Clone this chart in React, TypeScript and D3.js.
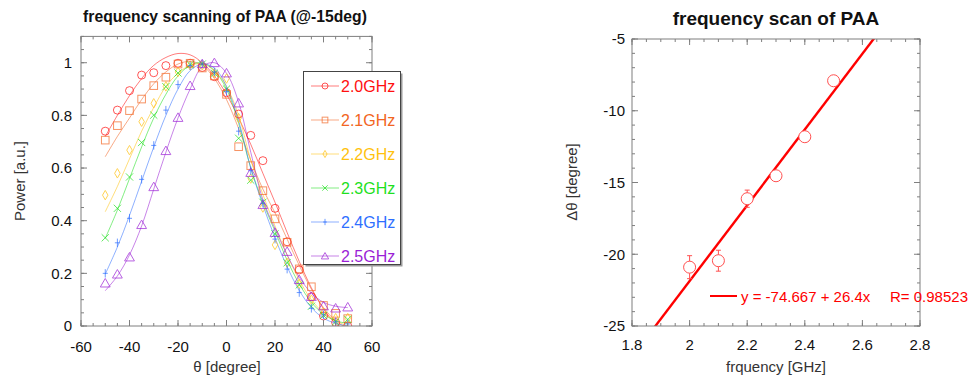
import * as d3 from "d3";

// left panel: measured beam patterns, one array per frequency (theta = -50..50 step 5)
const thetas = [-50, -45, -40, -35, -30, -25, -20, -15, -10, -5, 0, 5, 10, 15, 20, 25, 30, 35, 40, 45, 50];
const freqLabels = ["2.0GHz", "2.1GHz", "2.2GHz", "2.3GHz", "2.4GHz", "2.5GHz"];

const power20 = [0.74, 0.82, 0.894, 0.953, 0.962, 0.989, 0.998, 0.998, 0.982, 0.947, 0.886, 0.805, 0.724, 0.628, 0.447, 0.32, 0.213, 0.111, 0.038, 0.013, 0.0];
const power21 = [0.706, 0.761, 0.818, 0.862, 0.913, 0.945, 0.995, 0.998, 0.98, 0.95, 0.88, 0.681, 0.609, 0.514, 0.407, 0.318, 0.217, 0.149, 0.078, 0.048, 0.028];
const power22 = [0.497, 0.58, 0.668, 0.776, 0.846, 0.91, 0.965, 0.99, 0.99, 0.96, 0.94, 0.79, 0.56, 0.45, 0.308, 0.24, 0.16, 0.1, 0.05, 0.03, 0.03];
const power23 = [0.335, 0.447, 0.566, 0.697, 0.801, 0.909, 0.961, 0.993, 0.995, 0.96, 0.9, 0.713, 0.554, 0.47, 0.35, 0.24, 0.156, 0.075, 0.04, 0.016, 0.025];
const power24 = [0.2, 0.316, 0.409, 0.557, 0.686, 0.82, 0.917, 0.989, 0.995, 0.965, 0.89, 0.74, 0.59, 0.466, 0.33, 0.216, 0.127, 0.067, 0.042, 0.016, 0.008];
const power25 = [0.162, 0.196, 0.261, 0.384, 0.528, 0.665, 0.791, 0.912, 0.995, 0.999, 0.96, 0.846, 0.582, 0.46, 0.354, 0.282, 0.175, 0.111, 0.075, 0.067, 0.071];

// fitted curves at the same angles
const fit20 = [0.72, 0.8, 0.875, 0.94, 0.99, 1.02, 1.035, 1.03, 1.0, 0.95, 0.88, 0.79, 0.69, 0.58, 0.47, 0.355, 0.245, 0.145, 0.065, 0.01, -0.02];
const fit21 = [0.643, 0.72, 0.79, 0.86, 0.92, 0.965, 0.995, 1.005, 0.99, 0.94, 0.86, 0.75, 0.63, 0.52, 0.43, 0.33, 0.23, 0.14, 0.07, 0.02, -0.01];
const fit22 = [0.434, 0.53, 0.635, 0.74, 0.83, 0.91, 0.96, 0.99, 0.995, 0.97, 0.91, 0.8, 0.63, 0.5, 0.38, 0.27, 0.175, 0.1, 0.05, 0.02, 0.0];
const fit23 = [0.333, 0.44, 0.56, 0.68, 0.79, 0.88, 0.95, 0.99, 1.0, 0.97, 0.9, 0.77, 0.6, 0.47, 0.36, 0.25, 0.16, 0.09, 0.045, 0.02, 0.01];
const fit24 = [0.197, 0.3, 0.42, 0.55, 0.68, 0.8, 0.9, 0.97, 0.995, 0.98, 0.91, 0.78, 0.6, 0.46, 0.335, 0.225, 0.135, 0.07, 0.03, 0.01, 0.0];
const fit25 = [0.134, 0.19, 0.27, 0.38, 0.52, 0.66, 0.79, 0.9, 0.985, 1.0, 0.96, 0.85, 0.66, 0.48, 0.37, 0.27, 0.185, 0.125, 0.09, 0.075, 0.07];

// right panel: beam direction vs frequency
const freqs = [2.0, 2.1, 2.2, 2.3, 2.4, 2.5];
const deltaTheta = [-20.9, -20.45, -16.13, -14.53, -11.81, -7.91];
const deltaErr = [0.8, 0.73, 0.6, 0.3, 0.3, 0.3];
const fitIntercept = -74.667;
const fitSlope = 26.4;
const fitR = 0.98523;

const FONT = "'Liberation Sans', Arial, Helvetica, sans-serif";

type Shape = "circle" | "square" | "diamond" | "cross" | "plus" | "triangle";

const series: { label: string; color: string; shape: Shape; data: number[]; fit: number[] }[] = [
  { label: freqLabels[0], color: "#ff1010", shape: "circle", data: power20, fit: fit20 },
  { label: freqLabels[1], color: "#f26522", shape: "square", data: power21, fit: fit21 },
  { label: freqLabels[2], color: "#ffc20e", shape: "diamond", data: power22, fit: fit22 },
  { label: freqLabels[3], color: "#1ee01e", shape: "cross", data: power23, fit: fit23 },
  { label: freqLabels[4], color: "#2f6fff", shape: "plus", data: power24, fit: fit24 },
  { label: freqLabels[5], color: "#9b1fd6", shape: "triangle", data: power25, fit: fit25 },
];

function Marker({ shape, x, y, color, s = 1 }: { shape: Shape; x: number; y: number; color: string; s?: number }) {
  const common = { fill: "none", stroke: color, strokeWidth: 1 };
  if (shape === "circle") return <circle cx={x} cy={y} r={4 * s} {...common} />;
  if (shape === "square") return <rect x={x - 3.8 * s} y={y - 3.8 * s} width={7.6 * s} height={7.6 * s} {...common} />;
  if (shape === "diamond")
    return <path d={d3.symbol(d3.symbolDiamond, 26 * s * s)() as string} transform={`translate(${x},${y})`} {...common} />;
  if (shape === "triangle")
    return <path d={d3.symbol(d3.symbolTriangle, 42 * s * s)() as string} transform={`translate(${x},${y + 0.8})`} {...common} />;
  if (shape === "cross") {
    const r = 3.6 * s;
    return <path d={`M${x - r},${y - r}L${x + r},${y + r}M${x - r},${y + r}L${x + r},${y - r}`} {...common} />;
  }
  const r = 4.2 * s;
  return <path d={`M${x},${y - r}L${x},${y + r}M${x - r * 0.6},${y}L${x + r * 0.6},${y}`} {...common} />;
}

function Frame({ x0, x1, y0, y1, xMajor, xMinor, yMajor, yMinor }: {
  x0: number; x1: number; y0: number; y1: number; xMajor: number[]; xMinor: number[]; yMajor: number[]; yMinor: number[];
}) {
  const c = "#7f7f7f";
  return (
    <g stroke={c} strokeWidth={1} fill="none">
      <rect x={x0} y={y1} width={x1 - x0} height={y0 - y1} />
      {xMinor.map((v, i) => (
        <g key={"xm" + i}>
          <line x1={v} x2={v} y1={y0} y2={y0 - 3} />
          <line x1={v} x2={v} y1={y1} y2={y1 + 3} />
        </g>
      ))}
      {xMajor.map((v, i) => (
        <g key={"xM" + i}>
          <line x1={v} x2={v} y1={y0} y2={y0 - 6} />
          <line x1={v} x2={v} y1={y1} y2={y1 + 6} />
        </g>
      ))}
      {yMinor.map((v, i) => (
        <g key={"ym" + i}>
          <line x1={x0} x2={x0 + 3} y1={v} y2={v} />
          <line x1={x1} x2={x1 - 3} y1={v} y2={v} />
        </g>
      ))}
      {yMajor.map((v, i) => (
        <g key={"yM" + i}>
          <line x1={x0} x2={x0 + 6} y1={v} y2={v} />
          <line x1={x1} x2={x1 - 6} y1={v} y2={v} />
        </g>
      ))}
    </g>
  );
}

const fmt = (v: number) => String(+v.toFixed(2));

export default function App() {
  // left panel scales
  const xL = d3.scaleLinear().domain([-60, 60]).range([81, 372]);
  const yL = d3.scaleLinear().domain([0, 1.1]).range([326, 36.4]);
  const xLMajor = d3.range(-60, 60.01, 20);
  const xLMinor = d3.range(-60, 60.01, 5);
  const yLMajor = d3.range(0, 1.001, 0.2);
  const yLMinor = d3.range(0, 1.1001, 0.05);

  // right panel scales
  const xR = d3.scaleLinear().domain([1.8, 2.8]).range([632, 920]);
  const yR = d3.scaleLinear().domain([-25, -5]).range([326, 39]);
  const xRMajor = d3.range(1.8, 2.801, 0.2);
  const xRMinor = d3.range(1.8, 2.801, 0.05);
  const yRMajor = d3.range(-25, -4.99, 5);
  const yRMinor = d3.range(-25, -4.99, 1);

  const fitLine = d3
    .line<number>()
    .x((_, i) => xL(thetas[i]))
    .y((d) => yL(d))
    .curve(d3.curveCatmullRom.alpha(0.5));

  const regX = [1.8, 2.8];
  const regLine = d3
    .line<number>()
    .x((d) => xR(d))
    .y((d) => yR(fitIntercept + fitSlope * d));

  const legendRows = series.map((_, i) => 86 + i * 34);

  return (
    <svg width={974} height={383} style={{ position: "absolute", left: 0, top: 0, background: "#fff" }} fontFamily={FONT}>
      <defs>
        <clipPath id="clipL">
          <rect x={81} y={36.4} width={291} height={289.6} />
        </clipPath>
        <clipPath id="clipR">
          <rect x={632} y={39} width={288} height={287} />
        </clipPath>
      </defs>

      {/* ---------- left panel ---------- */}
      <text x={225} y={22} textAnchor="middle" fontSize={15.7} fontWeight="bold" fill="#111">
        frequency scanning of PAA (@-15deg)
      </text>

      <g clipPath="url(#clipL)">
        {series.map((s) => (
          <path key={"f" + s.label} d={fitLine(s.fit) as string} fill="none" stroke={s.color} strokeOpacity={0.55} strokeWidth={1} />
        ))}
        {series.map((s) =>
          s.data.map((v, i) => (
            <g key={s.label + i} opacity={0.7}>
              <Marker shape={s.shape} x={xL(thetas[i])} y={yL(v)} color={s.color} />
            </g>
          ))
        )}
      </g>

      <Frame x0={81} x1={372} y0={326} y1={36.4}
        xMajor={xLMajor.map(xL)} xMinor={xLMinor.map(xL)} yMajor={yLMajor.map(yL)} yMinor={yLMinor.map(yL)} />

      {xLMajor.map((v) => (
        <text key={"xl" + v} x={xL(v)} y={351.5} textAnchor="middle" fontSize={15} fill="#111">{fmt(v)}</text>
      ))}
      {yLMajor.map((v) => (
        <text key={"yl" + v} x={72} y={yL(v) + 5.3} textAnchor="end" fontSize={15} fill="#111">{fmt(v)}</text>
      ))}
      <text x={227} y={372} textAnchor="middle" fontSize={15} fill="#333">θ [degree]</text>
      <text transform="translate(25,181) rotate(-90)" textAnchor="middle" fontSize={15} fill="#333">Power [a.u.]</text>

      {/* legend */}
      <rect x={305.5} y={73.5} width={97} height={193} fill="#9a9a9a" />
      <rect x={303.5} y={71.5} width={97} height={193} fill="#fff" stroke="#444" strokeWidth={1} />
      {series.map((s, i) => (
        <g key={"lg" + s.label}>
          <line x1={311} x2={339} y1={legendRows[i]} y2={legendRows[i]} stroke={s.color} strokeOpacity={0.55} />
          <g opacity={0.7}>
            <Marker shape={s.shape} x={325} y={legendRows[i]} color={s.color} s={0.75} />
          </g>
          <text x={341} y={legendRows[i] + 5.6} fontSize={16} fill={s.color}>{s.label}</text>
        </g>
      ))}

      {/* ---------- right panel ---------- */}
      <text x={776} y={25} textAnchor="middle" fontSize={19} fontWeight="bold" fill="#111">
        frequency scan of PAA
      </text>

      <g clipPath="url(#clipR)">
        <path d={regLine(regX) as string} stroke="#ff0000" strokeWidth={2.4} fill="none" />
      </g>

      {freqs.map((f, i) => {
        const cx = xR(f);
        const top = yR(deltaTheta[i] + deltaErr[i]);
        const bot = yR(deltaTheta[i] - deltaErr[i]);
        return (
          <g key={"pt" + f} stroke="#ff5050" strokeWidth={1} fill="none">
            <line x1={cx} x2={cx} y1={top} y2={bot} />
            <line x1={cx - 2.5} x2={cx + 2.5} y1={top} y2={top} />
            <line x1={cx - 2.5} x2={cx + 2.5} y1={bot} y2={bot} />
            <circle cx={cx} cy={yR(deltaTheta[i])} r={6} fill="#fff" />
          </g>
        );
      })}

      <Frame x0={632} x1={920} y0={326} y1={39}
        xMajor={xRMajor.map(xR)} xMinor={xRMinor.map(xR)} yMajor={yRMajor.map(yR)} yMinor={yRMinor.map(yR)} />

      {xRMajor.map((v) => (
        <text key={"xr" + v} x={xR(v)} y={349.5} textAnchor="middle" fontSize={15} fill="#111">{fmt(v)}</text>
      ))}
      {yRMajor.map((v) => (
        <text key={"yr" + v} x={625} y={yR(v) + 5.3} textAnchor="end" fontSize={15} fill="#111">{fmt(v)}</text>
      ))}
      <text x={776} y={372} textAnchor="middle" fontSize={15} fill="#333">frquency [GHz]</text>
      <text transform="translate(577,182) rotate(-90)" textAnchor="middle" fontSize={15} fill="#333">Δθ [degree]</text>

      {/* regression legend */}
      <line x1={710} x2={737} y1={296} y2={296} stroke="#ff0000" strokeWidth={2} />
      <text x={741} y={301.5} fontSize={15} fill="#ff0000">
        y = {fitIntercept} + {fitSlope}x
      </text>
      <text x={890} y={301.5} fontSize={15} fill="#ff0000">R= {fitR}</text>
    </svg>
  );
}
